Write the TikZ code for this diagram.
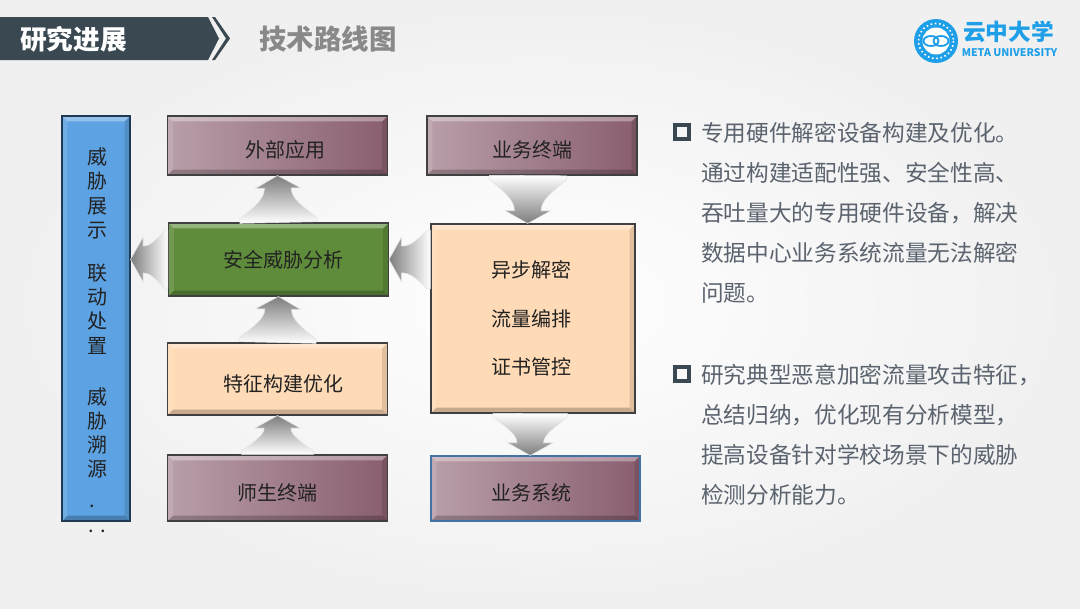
\documentclass[tikz,border=0pt]{standalone}
\usepackage{fontspec}
\setmainfont{Noto Sans CJK SC}
\usetikzlibrary{calc}
\definecolor{bannerdark}{HTML}{394851}
\definecolor{titlegrey}{HTML}{898989}
\definecolor{logoblue}{HTML}{1E9FE8}
\definecolor{bodygrey}{HTML}{5A636E}
\definecolor{boxink}{HTML}{222222}
\definecolor{arrowgrey}{HTML}{7D7D7D}
\tikzset{
    bevel/.style={path picture={
        \fill[white,opacity=.35] (path picture bounding box.north west) -- (path picture bounding box.north east)
            -- ([shift={(-4pt,-4pt)}]path picture bounding box.north east) -- ([shift={(4pt,-4pt)}]path picture bounding box.north west) -- cycle;
        \fill[black,opacity=.22] (path picture bounding box.south west) -- (path picture bounding box.south east)
            -- ([shift={(-4pt,4pt)}]path picture bounding box.south east) -- ([shift={(4pt,4pt)}]path picture bounding box.south west) -- cycle;
        \fill[black,opacity=.12] (path picture bounding box.north east) -- (path picture bounding box.south east)
            -- ([shift={(-4pt,4pt)}]path picture bounding box.south east) -- ([shift={(-4pt,-4pt)}]path picture bounding box.north east) -- cycle;
        \fill[white,opacity=.12] (path picture bounding box.north west) -- (path picture bounding box.south west)
            -- ([shift={(4pt,4pt)}]path picture bounding box.south west) -- ([shift={(4pt,-4pt)}]path picture bounding box.north west) -- cycle;
    }},
    flowbox/.style={bevel,draw=black!75,line width=.8pt,inner sep=0pt,text=boxink,font=\fontsize{15}{18}\selectfont,minimum width=165pt},
    lowtext/.style={text height=18pt,text depth=0pt},
    maroonbox/.style={flowbox,lowtext,left color=maroon!55!white,right color=maroon!92!white,minimum height=44.25pt},
    peachbox/.style={flowbox,fill=peach},
    greenbox/.style={flowbox,fill=leaf},
    bluebox/.style={flowbox,fill=sky,draw=navy,minimum width=51pt,minimum height=303.75pt},
    flowup/.style={top color=arrowgrey,bottom color=white,draw=black!10,line width=.4pt},
    flowdown/.style={bottom color=arrowgrey,top color=white,draw=black!10,line width=.4pt},
    flowleft/.style={left color=arrowgrey,right color=white,draw=black!10,line width=.4pt},
    bodytext/.style={anchor=north west,inner sep=0pt,align=left,text=bodygrey,font=\fontsize{17}{30}\selectfont},
    tick/.style={draw=bannerdark,line width=2.8pt,minimum size=10pt,inner sep=0pt}
}
\definecolor{maroon}{HTML}{7F5063}
\definecolor{peach}{HTML}{FFDAB6}
\definecolor{leaf}{HTML}{5E8C3A}
\definecolor{sky}{HTML}{5DA2E2}
\definecolor{navy}{HTML}{1F3A55}
% block arrow: style, from, to, half width of the base
\newcommand{\flowarrow}[4]{
    \path[#1] let \p1=(#2), \p2=(#3), \n1={atan2(\y2-\y1,\x2-\x1)}, \n2={veclen(\x2-\x1,\y2-\y1)} in
        {[shift={(\p1)},rotate=\n1]
        (0pt,#4) -- ({.08*\n2},#4) .. controls ({.35*\n2},{.62*#4}) and ({.5*\n2},10pt) .. ({\n2-9.5pt},10pt)
        -- ({\n2-9.5pt},17pt) -- (\n2,0pt) -- ({\n2-9.5pt},-17pt) -- ({\n2-9.5pt},-10pt)
        .. controls ({.5*\n2},-10pt) and ({.35*\n2},{-.62*#4}) .. ({.08*\n2},-#4) -- (0pt,-#4) -- cycle};
}
\begin{document}
\begin{tikzpicture}[x=.75pt,y=-.75pt]
    \useasboundingbox (0,0) rectangle (1080,608);
    \shade[inner color=white,outer color=black!6] (0,0) rectangle (1080,608);
    % header
    \fill[bannerdark] (0,17) -- (208,17) -- (219,38.5) -- (208,60) -- (0,60) -- cycle;
    \fill[bannerdark] (212,17) -- (215,17) -- (230,38.5) -- (215,60) -- (212,60) -- (226,38.5) -- cycle;
    \node[text=white,font=\fontsize{20}{24}\selectfont\bfseries] (section) at (73.5,39) {研究进展};
    \node[text=titlegrey,font=\fontsize{20.6}{24}\selectfont\bfseries] (title) at (328,39) {技术路线图};
    % logo
    \fill[logoblue] (936,41) circle [radius=22];
    \draw[white,line width=1.2pt,dotted] (936,41) circle [radius=17.5];
    \fill[white] (936,41) circle [radius=13.5];
    \draw[logoblue,line width=1.4pt] (931,41) ellipse [x radius=7.5,y radius=5];
    \draw[logoblue,line width=1.4pt] (941,41) ellipse [x radius=7.5,y radius=5];
    \node[text=logoblue,font=\fontsize{17}{20}\selectfont\bfseries] (logoname) at (1008.5,32) {云中大学};
    \node[text=logoblue,font=\fontsize{7.9}{10}\selectfont\bfseries] (logosub) at (1009.5,53) {META UNIVERSITY};
    % boxes
    \node[bluebox] (panel) at (96,318.5) {};
    \node[anchor=north,inner sep=0pt,align=center,text=boxink,font=\fontsize{15}{18.2}\selectfont] (paneltext) at (97.5,147.5)
        {威\\胁\\展\\示\\[14pt]联\\动\\处\\置\\[20pt]威\\胁\\溯\\源\\[5pt]\hspace*{-8pt}.\\[0pt].\hspace{5pt}.};
    \node[maroonbox] (app) at (277.5,145.5) {\hspace*{12pt}外部应用};
    \node[greenbox,minimum height=54.75pt] (analysis) at (278.5,259.5) {\hspace*{7pt}安全威胁分析};
    \node[peachbox,lowtext,minimum height=54pt] (feature) at (277.5,379) {\hspace*{9pt}特征构建优化};
    \node[maroonbox,minimum height=49.5pt] (client) at (277.5,488) {师生终端};
    \node[maroonbox,minimum width=157.5pt] (bizterm) at (532,145.5) {\hspace*{1pt}业务终端};
    \node[peachbox,minimum width=153pt,minimum height=141.75pt,align=center,font=\fontsize{15}{36.4}\selectfont] (decrypt) at (533,318.5)
        {\hspace*{-2pt}异步解密\\\hspace*{-2pt}流量编排\\\hspace*{-2pt}证书管控};
    \node[maroonbox,minimum width=156.75pt,minimum height=48.75pt,draw=navy!45!sky] (bizsys) at (535.5,488.5) {\hspace*{-6pt}业务系统};
    % arrows
    \flowarrow{flowup}{analysis.north}{app.south}{29pt}
    \flowarrow{flowup}{feature.north}{analysis.south}{29pt}
    \flowarrow{flowup}{client.north}{feature.south}{27pt}
    \flowarrow{flowleft}{analysis.west}{analysis.west -| panel.east}{22pt}
    \flowarrow{flowleft}{analysis.east -| decrypt.west}{analysis.east}{22pt}
    \flowarrow{flowdown}{[xshift=-3pt]bizterm.south}{[xshift=-4pt]decrypt.north}{29pt}
    \flowarrow{flowdown}{[xshift=-2pt]decrypt.south}{[xshift=-4pt]bizsys.north}{28pt}
    % right text
    \node[tick] (tick1) at (682,132) {};
    \node[bodytext] (para1) at (701,122) {专用硬件解密设备构建及优化。\\通过构建适配性强、安全性高、\\吞吐量大的专用硬件设备，解决\\数据中心业务系统流量无法解密\\问题。};
    \node[tick] (tick2) at (682,374) {};
    \node[bodytext] (para2) at (701,364) {研究典型恶意加密流量攻击特征，\\总结归纳，优化现有分析模型，\\提高设备针对学校场景下的威胁\\检测分析能力。};
\end{tikzpicture}
\end{document}
